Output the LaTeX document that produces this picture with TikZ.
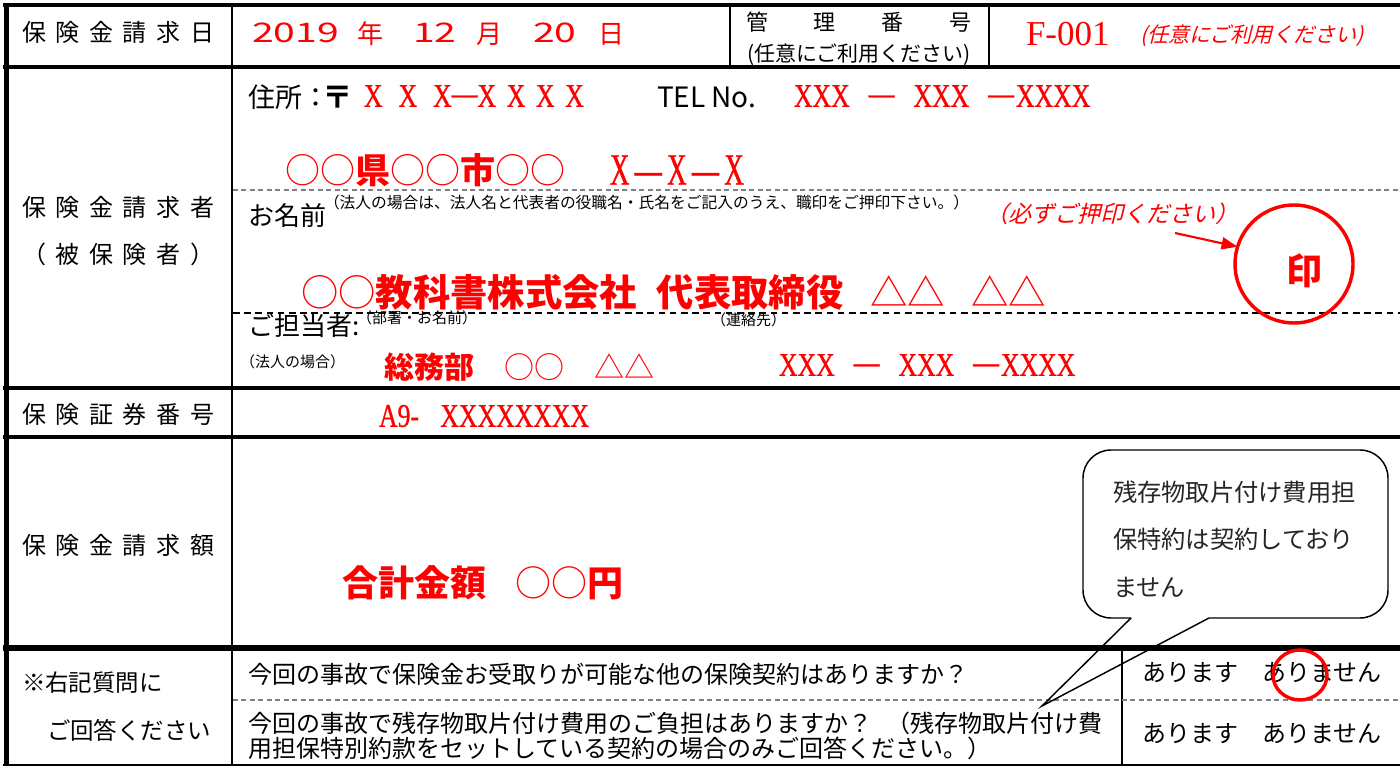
\documentclass[tikz,border=0pt]{standalone}
\usepackage{fontspec}
\usetikzlibrary{arrows.meta,shapes.geometric}
\setmainfont{Noto Sans CJK JP}
\newfontfamily\jp{Noto Sans CJK JP}
\newfontfamily\jpsl[FakeSlant=0.25]{Noto Sans CJK JP}
\newfontfamily\jpw[FakeStretch=1.45]{Noto Sans CJK JP}
\newfontfamily\ser[FakeStretch=0.78,FakeBold=0.8]{Liberation Serif}
\newfontfamily\serb[FakeStretch=0.6,FakeBold=0.8]{Liberation Serif}
\newfontfamily\serF{Liberation Serif}
\newcommand\fz[1]{\fontsize{#1}{#1}\selectfont}
\newcommand\lsp{\hspace{7.2pt}}
\newcommand\telno{XXX\hspace{14.25pt}\raisebox{2pt}{—}\hspace{14.25pt}XXX\hspace{14.25pt}\raisebox{2pt}{—}\hspace{1.5pt}XXXX}
\definecolor{dgray}{HTML}{808080}
\begin{document}
\begin{tikzpicture}[x=0.75pt,y=-0.75pt,
  every node/.style={inner sep=0pt,outer sep=0pt},
  lbl/.style={font=\jp\fz{18pt}},
  blk/.style={anchor=west,font=\jp\fz{18pt}},
  rd/.style={anchor=west,text=red},
  small/.style={anchor=west,font=\jp\fz{11.8pt}},
  dashg/.style={draw=dgray,line width=0.9pt,dash pattern=on 3.75pt off 2.6pt},
  dashk/.style={draw=black,line width=0.9pt,dash pattern=on 5pt off 3.4pt},
  stampc/.style={circle,draw=red,line width=2.6pt,minimum size=88.5pt},
  callout/.style={draw=black,line width=1.1pt}
]
\useasboundingbox (0,0) rectangle (1400,766);
\fill[white] (0,0) rectangle (1400,766);

% ---------- table lines ----------
\draw[line width=3pt] (3,5) -- (1400,5);
\draw[line width=2.6pt] (3,67) -- (1400,67);
\draw[line width=2.6pt] (3,388) -- (1400,388);
\draw[line width=2.3pt] (3,437) -- (1400,437);
\draw[line width=4.5pt] (3,648) -- (1400,648);
\draw[line width=1.5pt] (3,764.5) -- (1400,764.5);
\draw[line width=3.75pt] (6,3) -- (6,766);
\draw[line width=2pt] (232,5) -- (232,764);
\draw[line width=1.2pt] (730,5) -- (730,67);
\draw[line width=2.2pt] (989,5) -- (989,67);
\draw[line width=0.9pt] (1122,648) -- (1122,764);
\draw[dashg] (233,190) -- (1400,190);
\draw[dashk] (233,313) -- (1400,313);
\draw[dashg] (233,700) -- (1400,700);

% ---------- left labels ----------
\node[lbl] (l1) at (118,32) {保\lsp 険\lsp 金\lsp 請\lsp 求\lsp 日};
\node[lbl] (l2a) at (118,207) {保\lsp 険\lsp 金\lsp 請\lsp 求\lsp 者};
\node[lbl] (l2b) at (118,254) {（\lsp 被\lsp 保\lsp 険\lsp 者\lsp ）};
\node[lbl] (l3) at (118,414) {保\lsp 険\lsp 証\lsp 券\lsp 番\lsp 号};
\node[lbl] (l4) at (118,545) {保\lsp 険\lsp 金\lsp 請\lsp 求\lsp 額};
\node[anchor=west,font=\jp\fz{17.6pt}] (l5a) at (22,683) {※右記質問に};
\node[anchor=west,font=\jp\fz{17.6pt}] (l5b) at (47,730) {ご回答ください};

% ---------- row 1 ----------
\node[rd,font=\jpw\fz{20.25pt}] (y) at (252,33) {2019};
\node[rd,font=\jp\fz{19.5pt}] (yk) at (357,34) {年};
\node[rd,font=\jpw\fz{20.25pt}] (m) at (413,33) {12};
\node[rd,font=\jp\fz{19.5pt}] (mk) at (476,34) {月};
\node[rd,font=\jpw\fz{20.25pt}] (d) at (533,33) {20};
\node[rd,font=\jp\fz{19.5pt}] (dk) at (598,34) {日};
\node[font=\jp\fz{16.5pt}] (kanri) at (859,22) {管\hspace{34.5pt}理\hspace{34.5pt}番\hspace{34.5pt}号};
\node[font=\jp\fz{15.75pt}] (nini) at (859,55) {(任意にご利用ください)};
\node[rd,font=\serF\fz{26.25pt}] (fno) at (1026,34) {F-001};
\node[rd,font=\jpsl\fz{15.75pt}] (nini2) at (1140,36) {(任意にご利用ください)};

% ---------- row 2 ----------
\node[anchor=west,font=\jp\fz{20.25pt}] (jusho) at (248,97) {住所：};
\node[anchor=west,font=\jp\bfseries\fz{23pt}] (yubin) at (322,97) {〒};
\node[rd,font=\ser\fz{24.75pt}] (zip) at (364,96) {X\hspace{12pt}X\hspace{12pt}X\raisebox{2pt}{—}X\hspace{8pt}X\hspace{8pt}X\hspace{8pt}X};
\node[anchor=west,font=\jp\fz{21pt}] (tel) at (657,97) {TEL No.};
\node[rd,font=\ser\fz{24.75pt}] (telv) at (794,96) {\telno};
\node[rd,font=\jp\fz{26.25pt}] (addr) at (285,170) {○○{\bfseries 県}○○{\bfseries 市}○○};
\node[rd,font=\serb\fz{33.75pt}] (addrx) at (610,170) {X\hspace{4pt}—\hspace{4pt}X\hspace{4pt}—\hspace{4pt}X};

\node[anchor=west,font=\jp\fz{19.5pt}] (namae) at (248,216) {お名前};
\node[small] (note) at (324,203) {（法人の場合は、法人名と代表者の役職名・氏名をご記入のうえ、職印をご押印下さい。）};
\node[rd,font=\jpsl\fz{17.25pt}] (hitsu) at (985,214) {（必ずご押印ください）};
\node[stampc] (stamp) at (1294,264) {};
\node[text=red,font=\jp\bfseries\fz{27pt}] (in) at (1304,271) {印};
\coordinate (arrS) at (1175,233);
\draw[red,line width=1.6pt,-{Triangle[length=12pt,width=9pt]}] (arrS) -- (stamp.163);

\node[rd,font=\jp\fz{28pt}] (corp) at (301,292) {○○{\bfseries 教科書株式会社}\hspace{15pt}{\bfseries 代表取締役}\hspace{20pt}△△\hspace{20pt}△△};

\node[anchor=west,font=\jp\fz{19.5pt}] (tanto) at (248,326) {ご担当者:};
\node[small,font=\jp\fz{11.25pt}] (busho) at (357,318) {（部署・お名前）};
\node[small,font=\jp\fz{11.25pt}] (renraku) at (711,320) {（連絡先）};
\node[small,font=\jp\fz{11.25pt}] (hojin) at (240,362) {（法人の場合）};
\node[rd,font=\jp\fz{22.5pt}] (somu) at (384,367) {{\bfseries 総務部}　○○　△△};
\node[rd,font=\ser\fz{24.75pt}] (telv2) at (779,365) {\telno};

% ---------- row 3, 4 ----------
\node[rd,font=\ser\fz{24.75pt}] (shoken) at (379,416) {A9-\hspace{16pt}XXXXXXXX};
\node[rd,font=\jp\fz{27pt}] (gokei) at (342,583) {{\bfseries 合計金額}\hspace{22pt}○○{\bfseries 円}};

% ---------- row 5 ----------
\node[blk] (q1) at (248,674) {今回の事故で保険金お受取りが可能な他の保険契約はありますか？};
\node[blk] (q2a) at (248,723) {今回の事故で残存物取片付け費用のご負担はありますか？\hspace{11pt}（残存物取片付け費};
\node[blk] (q2b) at (248,748) {用担保特別約款をセットしている契約の場合のみご回答ください。）};
\node[blk] (a1) at (1142,673) {あります　ありません};
\node[blk] (a2) at (1142,734) {あります　ありません};
\node[draw=red,line width=2.6pt,ellipse,minimum width=40.5pt,minimum height=37.5pt] (mark) at (1300,675) {};

% ---------- callout ----------
\coordinate (cL) at (1131,618);
\coordinate (cR) at (1209,618);
\coordinate (cTip) at (1042,706);
\draw[callout,rounded corners=21pt] (cL) -- (1083,618) -- (1083,450) -- (1388,450) -- (1388,618) -- (cR);
\draw[callout] (cL) -- (cTip) -- (cR);
\node[anchor=west,font=\jp\fz{18.2pt},text=black!85] (c1) at (1113,492) {残存物取片付け費用担};
\node[anchor=west,font=\jp\fz{18.2pt},text=black!85] (c2) at (1113,539) {保特約は契約しており};
\node[anchor=west,font=\jp\fz{18.2pt},text=black!85] (c3) at (1113,587) {ません};
\end{tikzpicture}
\end{document}
